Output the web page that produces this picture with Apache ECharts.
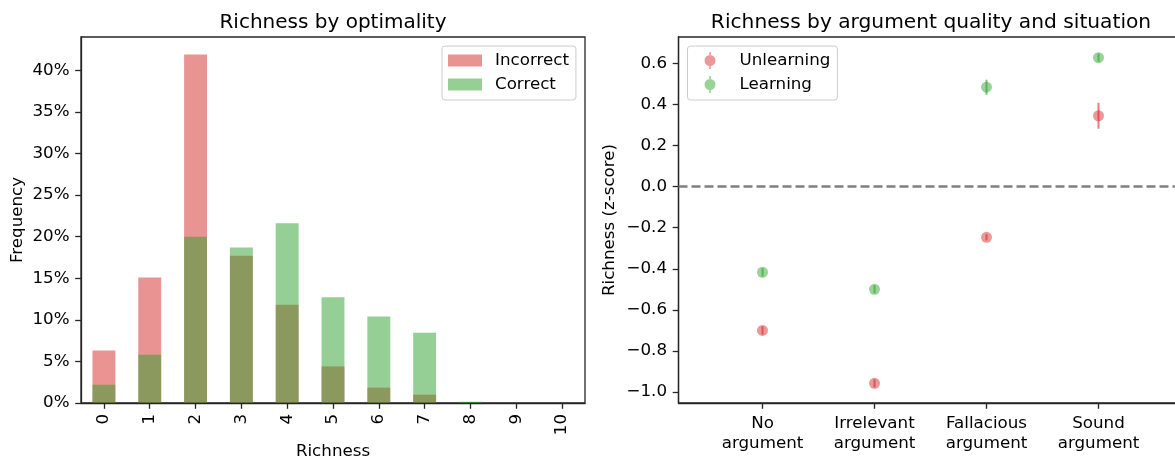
<!DOCTYPE html>
<html>
<head>
<meta charset="utf-8">
<script src="https://cdn.jsdelivr.net/npm/echarts@6/dist/echarts.min.js"></script>
<style>
  html, body { margin: 0; padding: 0; background: #fff; }
  #chart { width: 1175px; height: 461px; }
</style>
</head>
<body>
<div id="chart"></div>
<script>
// left panel: richness histogram (percent)
const richness = ['0', '1', '2', '3', '4', '5', '6', '7', '8', '9', '10']
const incorrectPct = [6.3, 15.1, 41.9, 17.7, 11.8, 4.4, 1.85, 1.0, 0, 0, 0]
const correctPct = [2.2, 5.8, 20.0, 18.7, 21.6, 12.7, 10.4, 8.45, 0.15, 0, 0]
const pctTicks = [0, 5, 10, 15, 20, 25, 30, 35, 40]

// right panel: mean richness (z-score) with error
const argNames = ['No\nargument', 'Irrelevant\nargument', 'Fallacious\nargument', 'Sound\nargument']
const unlearnMean = [-0.70, -0.958, -0.247, 0.345]
const unlearnErr = [0.02, 0.02, 0.015, 0.063]
const learnMean = [-0.417, -0.500, 0.484, 0.628]
const learnErr = [0.02, 0.02, 0.037, 0.02]
const zTicks = [-1.0, -0.8, -0.6, -0.4, -0.2, 0.0, 0.2, 0.4, 0.6]

const FONT = 'DejaVu Sans'
const RED_BAR = 'rgba(214,39,40,0.5)'
const GREEN_BAR = 'rgba(44,160,44,0.5)'
const RED_PT = 'rgba(214,39,40,0.6)'
const GREEN_PT = 'rgba(44,160,44,0.6)'
const AXIS = '#262626'
// errorbar legend handle (33x17 box): dot with a short vertical bar,
// tiny corner specks keep the path bounds equal to the handle box
const errIcon = 'path://M-16.5,-8.5 L-16.4,-8.5 L-16.5,-8.4 Z M16.5,8.5 L16.4,8.5 L16.5,8.4 Z ' +
  'M-5.5,0 A5.5,5.5 0 1,0 5.5,0 A5.5,5.5 0 1,0 -5.5,0 Z ' +
  'M-0.8,-8.5 L0.8,-8.5 L0.8,-5.4 L-0.8,-5.4 Z M-0.8,5.4 L0.8,5.4 L0.8,8.5 L-0.8,8.5 Z'

const chart = echarts.init(document.getElementById('chart'), null, { renderer: 'canvas' })

const labelStyle = { color: '#000', fontFamily: FONT, fontSize: 16.7 }
const tickStyle = { show: true, inside: false, length: 5.8, lineStyle: { color: AXIS, width: 1.3 } }
const legendBase = {
  orient: 'vertical',
  align: 'left',
  top: 46,
  itemGap: 7,
  padding: [6, 7, 7, 6],
  borderColor: '#cccccc',
  borderWidth: 1,
  borderRadius: 3,
  backgroundColor: 'rgba(255,255,255,0.8)',
  textStyle: { color: '#000', fontFamily: FONT, fontSize: 16.7, lineHeight: 17, padding: [0, 0, 0, 8] }
}

function points(mean) {
  return mean.map((v, i) => [i, v])
}
function bars(mean, err) {
  return mean.map((v, i) => [i, v - err[i], v + err[i]])
}
function errRenderer(color) {
  return function (params, api) {
    const x = api.value(0)
    const lo = api.coord([x, api.value(1)])
    const hi = api.coord([x, api.value(2)])
    return {
      type: 'line',
      shape: { x1: lo[0], y1: lo[1], x2: hi[0], y2: hi[1] },
      style: { stroke: color, lineWidth: 2 }
    }
  }
}

const option = {
  backgroundColor: '#fff',
  animation: false,
  title: [{
    text: 'Richness by optimality',
    left: 333,
    top: 13,
    padding: 0,
    textAlign: 'center',
    textStyle: { color: '#000', fontFamily: FONT, fontSize: 20, fontWeight: 'normal' }
  }, {
    text: 'Richness by argument quality and situation',
    left: 931,
    top: 13,
    padding: 0,
    textAlign: 'center',
    textStyle: { color: '#000', fontFamily: FONT, fontSize: 20.2, fontWeight: 'normal' }
  }],
  legend: [Object.assign({}, legendBase, {
    data: ['Incorrect', 'Correct'],
    left: 442,
    icon: 'rect',
    itemWidth: 34,
    itemHeight: 12
  }), Object.assign({}, legendBase, {
    data: ['Unlearning', 'Learning'],
    left: 687.5,
    icon: errIcon,
    symbolKeepAspect: false,
    itemWidth: 33,
    itemHeight: 17
  })],
  grid: [{
    left: 81, right: 590, top: 37, bottom: 58,
    show: true, borderColor: AXIS, borderWidth: 1.3,
    containLabel: false, outerBoundsMode: 'none'
  }, {
    left: 678.5, right: -7.5, top: 37, bottom: 58,
    show: true, borderColor: AXIS, borderWidth: 1.3,
    containLabel: false, outerBoundsMode: 'none'
  }],
  xAxis: [{
    gridIndex: 0,
    type: 'category',
    data: richness,
    boundaryGap: true,
    name: 'Richness',
    nameLocation: 'middle',
    nameGap: 38,
    nameTextStyle: labelStyle,
    axisLine: { show: true, lineStyle: { color: AXIS, width: 1.3 } },
    axisTick: Object.assign({ alignWithLabel: true }, tickStyle),
    axisLabel: Object.assign({ rotate: 90, margin: 11, interval: 0 }, labelStyle),
    splitLine: { show: false }
  }, {
    gridIndex: 1,
    type: 'value',
    min: -0.75,
    max: 3.75,
    axisLine: { show: true, onZero: false, lineStyle: { color: AXIS, width: 1.3 } },
    axisTick: Object.assign({ customValues: [0, 1, 2, 3] }, tickStyle),
    axisLabel: Object.assign({
      customValues: [0, 1, 2, 3],
      margin: 11,
      lineHeight: 19.5,
      align: 'center',
      formatter: v => argNames[Math.round(v)]
    }, labelStyle),
    splitLine: { show: false }
  }],
  yAxis: [{
    gridIndex: 0,
    type: 'value',
    min: 0,
    max: 44,
    name: 'Frequency',
    nameLocation: 'middle',
    nameGap: 55,
    nameTextStyle: labelStyle,
    axisLine: { show: true, lineStyle: { color: AXIS, width: 1.3 } },
    axisTick: Object.assign({ customValues: pctTicks }, tickStyle),
    axisLabel: Object.assign({ customValues: pctTicks, margin: 11.5, formatter: v => Math.round(v) + '%' }, labelStyle),
    splitLine: { show: false }
  }, {
    gridIndex: 1,
    type: 'value',
    min: -1.0536,
    max: 0.7285,
    name: 'Richness (z-score)',
    nameLocation: 'middle',
    nameGap: 60,
    nameTextStyle: labelStyle,
    axisLine: { show: true, onZero: false, lineStyle: { color: AXIS, width: 1.3 } },
    axisTick: Object.assign({ customValues: zTicks }, tickStyle),
    axisLabel: Object.assign({ customValues: zTicks, margin: 11.5, formatter: v => v.toFixed(1).replace('-', '\u2212') }, labelStyle),
    splitLine: { show: false }
  }],
  series: [{
    name: 'Incorrect',
    type: 'bar',
    xAxisIndex: 0,
    yAxisIndex: 0,
    data: incorrectPct,
    barWidth: '50%',
    barGap: '-100%',
    itemStyle: { color: RED_BAR }
  }, {
    name: 'Correct',
    type: 'bar',
    xAxisIndex: 0,
    yAxisIndex: 0,
    data: correctPct,
    barWidth: '50%',
    barGap: '-100%',
    itemStyle: { color: GREEN_BAR }
  }, {
    name: 'Unlearning err',
    type: 'custom',
    xAxisIndex: 1,
    yAxisIndex: 1,
    data: bars(unlearnMean, unlearnErr),
    encode: { x: 0, y: [1, 2] },
    renderItem: errRenderer(RED_PT),
    z: 3
  }, {
    name: 'Unlearning',
    type: 'scatter',
    xAxisIndex: 1,
    yAxisIndex: 1,
    data: points(unlearnMean),
    symbol: 'circle',
    symbolSize: 11,
    itemStyle: { color: RED_PT },
    z: 2,
    markLine: {
      silent: true,
      symbol: 'none',
      label: { show: false },
      lineStyle: { color: '#808080', width: 2.5, type: [9, 4] },
      data: [{ yAxis: 0 }]
    }
  }, {
    name: 'Learning err',
    type: 'custom',
    xAxisIndex: 1,
    yAxisIndex: 1,
    data: bars(learnMean, learnErr),
    encode: { x: 0, y: [1, 2] },
    renderItem: errRenderer(GREEN_PT),
    z: 3
  }, {
    name: 'Learning',
    type: 'scatter',
    xAxisIndex: 1,
    yAxisIndex: 1,
    data: points(learnMean),
    symbol: 'circle',
    symbolSize: 11,
    itemStyle: { color: GREEN_PT },
    z: 2
  }]
}

chart.setOption(option)
</script>
</body>
</html>
